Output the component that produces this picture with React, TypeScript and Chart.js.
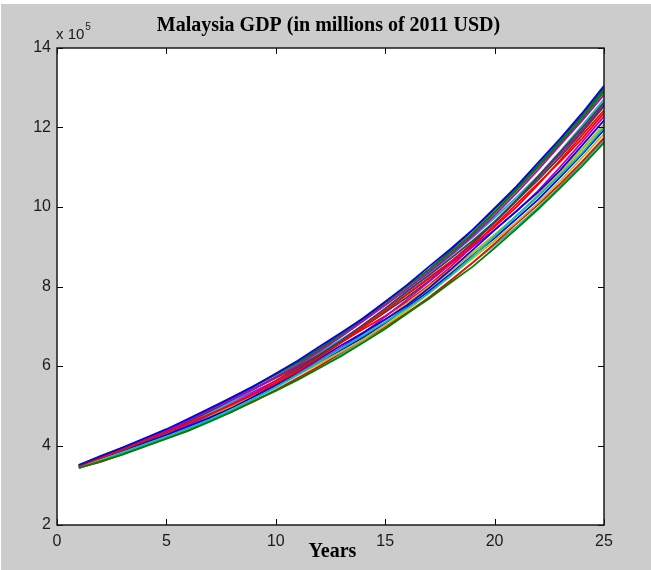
import React, { useEffect, useRef } from "react";
import { Chart, registerables } from "chart.js";

Chart.register(...registerables);

// Simulated Malaysia GDP paths, in units of 10^5 million 2011 USD
const YEARS = [1, 2, 3, 4, 5, 6, 7, 8, 9, 10, 11, 12, 13, 14, 15, 16, 17, 18, 19, 20, 21, 22, 23, 24, 25];
const Y_EXPONENT = 5;
const X_TICKS = [0, 5, 10, 15, 20, 25];
const Y_TICKS = [2, 4, 6, 8, 10, 12, 14];

const RUN_01 = [3.51, 3.73, 3.95, 4.18, 4.41, 4.67, 4.94, 5.21, 5.49, 5.81, 6.13, 6.49, 6.84, 7.2, 7.62, 8.04, 8.5, 8.95, 9.43, 9.97, 10.52, 11.12, 11.72, 12.36, 13.05];
const RUN_02 = [3.44, 3.6, 3.77, 3.97, 4.17, 4.37, 4.61, 4.85, 5.12, 5.37, 5.65, 5.95, 6.25, 6.59, 6.94, 7.32, 7.69, 8.1, 8.5, 8.97, 9.45, 9.95, 10.48, 11.03, 11.62];
const RUN_03 = [3.48, 3.69, 3.9, 4.12, 4.34, 4.56, 4.79, 5.03, 5.29, 5.56, 5.87, 6.22, 6.59, 6.98, 7.39, 7.8, 8.2, 8.62, 9.05, 9.5, 10.0, 10.57, 11.18, 11.81, 12.43];
const RUN_04 = [3.43, 3.62, 3.82, 4.02, 4.22, 4.43, 4.65, 4.89, 5.17, 5.47, 5.78, 6.11, 6.44, 6.77, 7.1, 7.45, 7.84, 8.28, 8.76, 9.26, 9.78, 10.28, 10.8, 11.36, 12.0];
const RUN_05 = [3.49, 3.7, 3.9, 4.13, 4.37, 4.63, 4.9, 5.16, 5.43, 5.72, 6.02, 6.37, 6.74, 7.13, 7.53, 7.94, 8.36, 8.79, 9.27, 9.79, 10.35, 10.94, 11.56, 12.17, 12.82];
const RUN_06 = [3.47, 3.64, 3.83, 4.02, 4.22, 4.43, 4.65, 4.91, 5.18, 5.46, 5.77, 6.06, 6.36, 6.67, 7.02, 7.4, 7.82, 8.26, 8.71, 9.15, 9.62, 10.11, 10.66, 11.24, 11.84];
const RUN_07 = [3.5, 3.69, 3.89, 4.1, 4.33, 4.6, 4.87, 5.15, 5.43, 5.7, 5.98, 6.29, 6.64, 7.04, 7.45, 7.88, 8.28, 8.71, 9.15, 9.63, 10.17, 10.77, 11.38, 11.99, 12.63];
const RUN_08 = [3.46, 3.65, 3.85, 4.07, 4.27, 4.48, 4.71, 4.95, 5.23, 5.54, 5.86, 6.19, 6.52, 6.84, 7.17, 7.53, 7.96, 8.43, 8.92, 9.42, 9.9, 10.38, 10.93, 11.55, 12.18];
const RUN_09 = [3.5, 3.73, 3.94, 4.15, 4.38, 4.63, 4.91, 5.2, 5.49, 5.78, 6.08, 6.41, 6.78, 7.18, 7.59, 8.0, 8.42, 8.86, 9.35, 9.88, 10.46, 11.05, 11.65, 12.27, 12.95];
const RUN_10 = [3.44, 3.59, 3.78, 3.99, 4.2, 4.41, 4.63, 4.86, 5.11, 5.39, 5.69, 6.0, 6.34, 6.66, 6.99, 7.34, 7.72, 8.15, 8.6, 9.08, 9.58, 10.07, 10.58, 11.14, 11.74];
const RUN_11 = [3.48, 3.7, 3.91, 4.12, 4.34, 4.57, 4.83, 5.11, 5.41, 5.72, 6.03, 6.34, 6.67, 7.02, 7.43, 7.86, 8.31, 8.78, 9.24, 9.73, 10.24, 10.79, 11.4, 12.05, 12.71];
const RUN_12 = [3.45, 3.63, 3.81, 4.03, 4.26, 4.52, 4.78, 5.05, 5.31, 5.57, 5.84, 6.13, 6.46, 6.83, 7.24, 7.67, 8.12, 8.57, 9.0, 9.43, 9.89, 10.41, 11.01, 11.64, 12.28];
const RUN_13 = [3.52, 3.69, 3.88, 4.08, 4.28, 4.49, 4.74, 5.0, 5.28, 5.57, 5.86, 6.15, 6.46, 6.79, 7.17, 7.58, 8.0, 8.42, 8.84, 9.29, 9.77, 10.32, 10.89, 11.47, 12.08];
const RUN_14 = [3.43, 3.63, 3.83, 4.05, 4.29, 4.54, 4.78, 5.04, 5.3, 5.58, 5.9, 6.25, 6.61, 6.98, 7.35, 7.73, 8.14, 8.59, 9.09, 9.62, 10.16, 10.69, 11.26, 11.88, 12.53];
const RUN_15 = [3.49, 3.66, 3.85, 4.04, 4.25, 4.45, 4.68, 4.94, 5.21, 5.5, 5.8, 6.1, 6.41, 6.72, 7.08, 7.47, 7.88, 8.32, 8.78, 9.22, 9.7, 10.19, 10.75, 11.33, 11.94];
const RUN_16 = [3.46, 3.68, 3.89, 4.12, 4.36, 4.62, 4.89, 5.15, 5.42, 5.72, 6.04, 6.4, 6.77, 7.16, 7.54, 7.94, 8.36, 8.81, 9.32, 9.86, 10.42, 11.01, 11.6, 12.22, 12.9];
const RUN_17 = [3.5, 3.7, 3.9, 4.11, 4.31, 4.52, 4.75, 5.02, 5.31, 5.63, 5.96, 6.29, 6.6, 6.93, 7.26, 7.62, 8.03, 8.5, 9.01, 9.54, 10.08, 10.6, 11.14, 11.72, 12.36];
const RUN_18 = [3.44, 3.6, 3.79, 3.98, 4.17, 4.38, 4.6, 4.85, 5.12, 5.4, 5.7, 5.98, 6.29, 6.6, 6.94, 7.32, 7.73, 8.16, 8.6, 9.04, 9.5, 9.99, 10.52, 11.09, 11.69];
const RUN_19 = [3.47, 3.67, 3.86, 4.09, 4.33, 4.58, 4.85, 5.1, 5.36, 5.63, 5.93, 6.28, 6.64, 7.03, 7.43, 7.81, 8.22, 8.63, 9.09, 9.61, 10.17, 10.75, 11.33, 11.93, 12.58];
const RUN_20 = [3.45, 3.64, 3.84, 4.04, 4.24, 4.45, 4.67, 4.93, 5.22, 5.52, 5.83, 6.12, 6.43, 6.75, 7.1, 7.5, 7.93, 8.39, 8.85, 9.31, 9.78, 10.27, 10.84, 11.44, 12.06];
const RUN_21 = [3.51, 3.74, 3.95, 4.17, 4.39, 4.65, 4.92, 5.21, 5.5, 5.8, 6.1, 6.44, 6.82, 7.21, 7.61, 8.01, 8.43, 8.91, 9.42, 9.95, 10.5, 11.06, 11.66, 12.32, 13.0];

const RUNS = [
  RUN_01, RUN_02, RUN_03, RUN_04, RUN_05, RUN_06, RUN_07,
  RUN_08, RUN_09, RUN_10, RUN_11, RUN_12, RUN_13, RUN_14,
  RUN_15, RUN_16, RUN_17, RUN_18, RUN_19, RUN_20, RUN_21,
];

// Classic MATLAB line color order
const LINE_COLORS = ["#0000ff", "#008000", "#ff0000", "#00bfbf", "#bf00bf", "#bfbf00", "#404040"];

const TITLE = "Malaysia GDP (in millions of 2011 USD)";
const X_LABEL = "Years";

const W = 651;
const H = 570;
const FIG_GRAY = "#cccccc";
const TICK_FONT = "Liberation Sans, Arial, sans-serif";
const SERIF_BOLD = "bold 20px 'Liberation Serif', 'Times New Roman', serif";

const figurePlugin = {
  id: "figureFrame",
  beforeDraw(chart: any) {
    const { ctx, chartArea } = chart;
    ctx.save();
    ctx.fillStyle = "#ffffff";
    ctx.fillRect(0, 0, W, H);
    ctx.fillStyle = FIG_GRAY;
    ctx.fillRect(1, 4, W - 1, H - 4);
    ctx.fillStyle = "#ffffff";
    ctx.fillRect(chartArea.left, chartArea.top, chartArea.right - chartArea.left, chartArea.bottom - chartArea.top);
    ctx.restore();
  },
  afterDatasetsDraw(chart: any) {
    const { ctx, chartArea } = chart;
    const { left, right, top, bottom } = chartArea;
    const xs = chart.scales.x;
    const ys = chart.scales.y;
    const tl = 6;
    ctx.save();
    ctx.strokeStyle = "#000000";
    ctx.lineWidth = 1;
    ctx.beginPath();
    X_TICKS.forEach((v) => {
      const px = Math.round(xs.getPixelForValue(v)) + 0.5;
      ctx.moveTo(px, bottom);
      ctx.lineTo(px, bottom - tl);
      ctx.moveTo(px, top);
      ctx.lineTo(px, top + tl);
    });
    Y_TICKS.forEach((v) => {
      const py = Math.round(ys.getPixelForValue(v)) + 0.5;
      ctx.moveTo(left, py);
      ctx.lineTo(left + tl, py);
      ctx.moveTo(right, py);
      ctx.lineTo(right - tl, py);
    });
    ctx.stroke();
    ctx.strokeStyle = "#1a1a1a";
    ctx.lineWidth = 1.5;
    ctx.strokeRect(left, top, right - left, bottom - top);
    ctx.restore();
  },
  afterDraw(chart: any) {
    const { ctx, chartArea } = chart;
    const cx = (chartArea.left + chartArea.right) / 2;
    ctx.save();
    ctx.fillStyle = "#000000";
    ctx.font = SERIF_BOLD;
    ctx.textAlign = "center";
    ctx.textBaseline = "alphabetic";
    ctx.fillText(TITLE, cx - 2, 31);
    ctx.fillText(X_LABEL, cx + 2, 557);

    // Exponent label for the y axis
    ctx.textAlign = "left";
    ctx.fillStyle = "#1a1a1a";
    ctx.font = `15px ${TICK_FONT}`;
    const base = "x 10";
    ctx.fillText(base, chartArea.left - 1, 39);
    const bw = ctx.measureText(base).width;
    ctx.font = `10px ${TICK_FONT}`;
    ctx.fillText(String(Y_EXPONENT), chartArea.left + bw, 30);
    ctx.restore();
  },
};

export default function App() {
  const canvasRef = useRef<HTMLCanvasElement | null>(null);

  useEffect(() => {
    const canvas = canvasRef.current;
    if (!canvas) return;

    const datasets = RUNS.map((run, i) => ({
      label: `Run ${i + 1}`,
      data: YEARS.map((yr, j) => ({ x: yr, y: run[j] })),
      borderColor: LINE_COLORS[i % LINE_COLORS.length],
      backgroundColor: LINE_COLORS[i % LINE_COLORS.length],
      borderWidth: 1.8,
      pointRadius: 0,
      tension: 0,
      fill: false,
    }));

    const chart = new Chart(canvas, {
      type: "line",
      data: { datasets },
      options: {
        responsive: false,
        animation: false,
        events: [],
        layout: { padding: { left: 0, top: 48, right: 47, bottom: 0 } },
        plugins: {
          legend: { display: false },
          title: { display: false },
          tooltip: { enabled: false },
        },
        scales: {
          x: {
            type: "linear",
            min: 0,
            max: 25,
            afterFit: (scale: any) => {
              scale.height = 45;
            },
            afterBuildTicks: (scale: any) => {
              scale.ticks = X_TICKS.map((v) => ({ value: v }));
            },
            grid: { display: false, drawTicks: false },
            border: { display: false },
            ticks: {
              padding: 7,
              color: "#1a1a1a",
              maxRotation: 0,
              font: { family: TICK_FONT, size: 16 },
            },
          },
          y: {
            type: "linear",
            min: 2,
            max: 14,
            afterFit: (scale: any) => {
              scale.width = 57;
            },
            afterBuildTicks: (scale: any) => {
              scale.ticks = Y_TICKS.map((v) => ({ value: v }));
            },
            grid: { display: false, drawTicks: false },
            border: { display: false },
            ticks: {
              padding: 6,
              color: "#1a1a1a",
              font: { family: TICK_FONT, size: 16 },
            },
          },
        },
      },
      plugins: [figurePlugin],
    });

    return () => chart.destroy();
  }, []);

  return (
    <div style={{ position: "absolute", left: 0, top: 0, width: W, height: H }}>
      <canvas ref={canvasRef} width={W} height={H} style={{ display: "block", width: W, height: H }} />
    </div>
  );
}
